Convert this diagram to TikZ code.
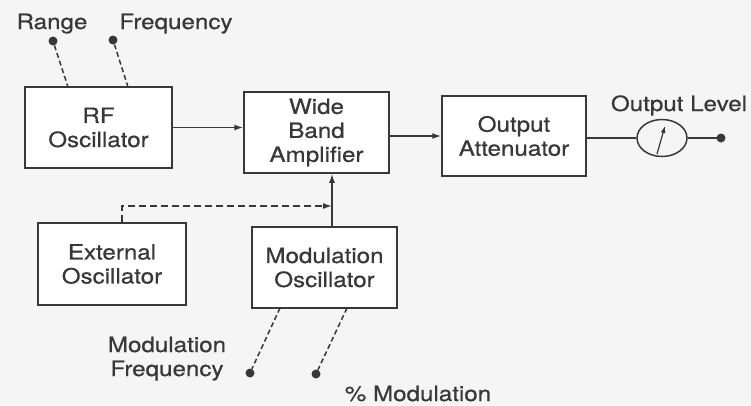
\documentclass[tikz,border=0pt]{standalone}
\usepackage{fontspec}
\setmainfont[FakeStretch=1.15,FakeBold=0.6]{TeX Gyre Heros}
\usetikzlibrary{arrows.meta,shapes.geometric}
\definecolor{ink}{gray}{0.22}
\begin{document}
\begin{tikzpicture}[x=1pt,y=-1pt,
  every node/.style={text=ink},
  txt/.style={font=\fontsize{21}{24}\selectfont, inner sep=0pt},
  blockbox/.style={draw=ink, line width=1.5pt, fill=white, align=center,
    font=\fontsize{21}{24}\selectfont, minimum width=#1, minimum height=81pt, inner sep=0pt},
  conn/.style={draw=ink, line width=1.5pt},
  arr/.style={conn, -{Latex[length=9pt,width=6pt]}},
  dasharr/.style={arr, dash pattern=on 7pt off 4pt},
  knobline/.style={conn, dash pattern=on 5pt off 3pt},
  knob/.style={circle, fill=ink, inner sep=0pt, minimum size=9pt}]
\fill[black!4] (0,0) rectangle (751,405);
\useasboundingbox (0,0) rectangle (751,405);

% blocks
\node[blockbox=147pt] (rf)  at (98.5,127.5) {RF\\Oscillator};
\node[blockbox=145pt] (wba) at (316.5,132.5) {Wide\\Band\\Amplifier};
\node[blockbox=144pt, minimum height=80pt] (oa) at (514,136) {Output\\Attenuator};
\node[blockbox=148pt, minimum height=82pt] (ext) at (112,264) {External\\Oscillator};
\node[blockbox=145pt] (mod) at (324.5,267.5) {Modulation\\Oscillator};

% meter
\node[ellipse, draw=ink, line width=1.5pt, minimum width=50pt, minimum height=37pt, inner sep=0pt] (meter) at (662,138) {};
\coordinate (ndl1) at (657,154);
\coordinate (ndl2) at (665,126);
\draw[arr, line width=1.2pt, -{Latex[length=7pt,width=5pt]}] (ndl1) -- (ndl2);
\node[knob] (outdot) at (721,138) {};

% signal path
\draw[arr] (rf.east) -- (rf.east -| wba.west);
\draw[arr] (wba.east |- oa.west) -- (oa.west);
\draw[conn] (oa.east |- meter.west) -- (meter.west);
\draw[conn] (meter.east) -- (outdot.center);

% modulation into amplifier
\coordinate (vx) at (332,0);
\coordinate (jn) at (332,206);
\coordinate (ex) at (122,206);
\draw[arr] (mod.north -| vx) -- (wba.south -| vx);
\draw[dasharr] (ext.north -| ex) -- (ex) -- (jn);

% knobs at top
\node[knob] (rangedot) at (53,41) {};
\node[knob] (freqdot)  at (113,40) {};
\coordinate (rangein) at (68,87);
\coordinate (freqin) at (128,87);
\draw[knobline] (rangedot) -- (rangein);
\draw[knobline] (freqdot) -- (freqin);
\node[txt, anchor=base] (range) at (52,29) {Range};
\node[txt, anchor=base] (freq) at (176,29) {Frequency};

% knobs at bottom
\node[knob] (mfdot) at (250,373) {};
\node[knob] (pmdot) at (316,374) {};
\coordinate (mfout) at (280,308);
\coordinate (pmout) at (347,308);
\draw[knobline] (mfout) -- (mfdot);
\draw[knobline] (pmout) -- (pmdot);
\node[txt, align=center, anchor=base] (mftext) at (167,376) {Modulation\\Frequency};
\node[txt, anchor=base] (pmtext) at (418,401) {\% Modulation};

% output level
\node[txt, anchor=base] (outlvl) at (679,111) {Output Level};
\end{tikzpicture}
\end{document}
